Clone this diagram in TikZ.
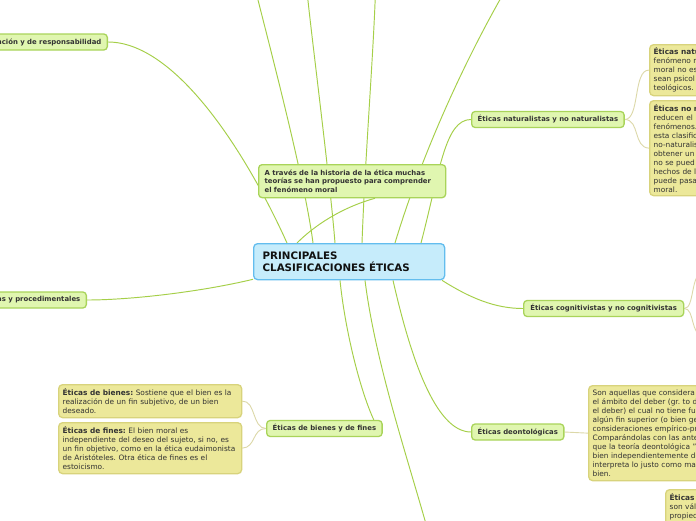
\documentclass[tikz,border=0pt]{standalone}
\usepackage{fontspec}
\setmainfont{DejaVu Sans}
\usetikzlibrary{calc}
\definecolor{gfill}{HTML}{E0F6B0}
\definecolor{gborder}{HTML}{A9D45A}
\definecolor{glin}{HTML}{A5CF48}
\definecolor{cfill}{HTML}{C6ECFB}
\definecolor{cborder}{HTML}{63BDEE}
\definecolor{tfill}{HTML}{ECE89A}
\definecolor{tborder}{HTML}{D8D37C}
\definecolor{tlin}{HTML}{DCD8A8}
\definecolor{txt}{HTML}{333333}
\definecolor{ctxt}{HTML}{111111}
\newcommand\gfnt{\frenchspacing\bfseries\fontsize{6.9}{8.5}\selectfont}
\newcommand\tfnt{\frenchspacing\fontsize{7.4}{9}\selectfont}
\newcommand\cfnt{\bfseries\fontsize{10.3}{12.5}\selectfont}
\pgfdeclarelayer{bg}
\pgfsetlayers{bg,main}
\begin{document}
\begin{tikzpicture}[x=1pt,y=-1pt,
  gnode/.style={draw=gborder, fill=gfill, line width=1.3pt, rounded corners=3.5pt,
    font=\gfnt, text=txt, inner xsep=6pt, inner ysep=0pt, minimum height=16pt},
  cnode/.style={draw=cborder, fill=cfill, line width=1.3pt, rounded corners=4pt,
    font=\cfnt, text=ctxt, inner xsep=9pt, inner ysep=0pt, align=left},
  tnode/.style={draw=tborder, fill=tfill, line width=1.3pt, rounded corners=4pt,
    font=\tfnt, text=txt, align=left, inner xsep=4pt, inner ysep=3pt, anchor=north west},
  gcon/.style={draw=glin, line width=0.95pt},
  tcon/.style={draw=tlin, line width=0.9pt}]
\useasboundingbox (0,0) rectangle (696,520);

% central node
\node[cnode, anchor=north west, text width=173pt, minimum height=36pt] (c) at (253,243)
  {PRINCIPALES\\CLASIFICACIONES ÉTICAS};

% green nodes
\node[gnode, anchor=north west, text width=175pt, align=left, minimum height=33pt] (hist) at (258,164)
  {A través de la historia de la ética muchas\\teorías se han propuesto para comprender\\el fenómeno moral};
\node[gnode, anchor=east] (resp) at (108,42) {nción y de responsabilidad};
\node[gnode, anchor=east] (proc) at (87,300) {as y procedimentales};
\node[gnode, anchor=west, minimum width=152pt] (nat) at (471,119.5) {Éticas naturalistas y no naturalistas};
\node[gnode, anchor=west, minimum width=160pt] (cog) at (523,308.5) {Éticas cognitivistas y no cognitivistas};
\node[gnode, anchor=west, minimum width=91pt] (deon) at (471,432) {Éticas deontológicas};
\node[gnode, anchor=west, minimum width=115pt] (bf) at (266,428.5) {Éticas de bienes y de fines};

% tan boxes
\node[tnode, text width=175pt, minimum height=33pt] (b1) at (58,384)
  {\textbf{Éticas de bienes:} Sostiene que el bien es la\\realización de un fin subjetivo, de un bien\\deseado.};
\node[tnode, text width=175pt, minimum height=51pt] (b2) at (58,422)
  {\textbf{Éticas de fines:} El bien moral es\\independiente del deseo del sujeto, si no, es\\un fin objetivo, como en la ética eudaimonista\\de Aristóteles. Otra ética de fines es el\\estoicismo.};
\node[tnode, text width=120pt, minimum height=51pt] (n1) at (649,44)
  {\textbf{Éticas natu}\\fenómeno m\\moral no es\\sean psicol\\teológicos.};
\node[tnode, text width=120pt, minimum height=95pt] (n2) at (649,100)
  {\textbf{Éticas no n}\\reducen el\\fenómenos.\\esta clasific\\no-naturalis\\obtener un\\no se pued\\hechos de l\\puede pasa\\moral.};
\node[tnode, text width=160pt, minimum height=95pt] (d1) at (588,385)
  {Son aquellas que considera\\el ámbito del deber (gr. to d\\el deber) el cual no tiene fu\\algún fin superior (o bien ge\\consideraciones empírico-pr\\Comparándolas con las ante\\que la teoría deontológica "\\bien independientemente de\\interpreta lo justo como ma\\bien.};
\node[tnode, text width=120pt, minimum height=50pt] (br) at (665,489)
  {\textbf{Éticas}\\son vál\\propied\\\mbox{}\\\mbox{}};

% free ends
\coordinate (t1) at (257,-4);
\coordinate (t2) at (307.5,-4);
\coordinate (t3) at (375.3,-4);
\coordinate (t4) at (502,-4);
\coordinate (bot) at (426,524);
\coordinate (cu) at (704,272);
\coordinate (cd) at (704,336);

\begin{pgfonlayer}{bg}
\fill[white] (0,0) rectangle (696,520);
\draw[gcon] ([xshift=34pt]c.north west) .. controls (245,150) and (175,42) .. (resp.east);
\draw[gcon] ([xshift=60pt]c.north west) .. controls (305,180) and (268,40) .. (t1);
\draw[gcon] ([xshift=82pt]c.north west) .. controls (330,180) and (312,40) .. (t2);
\draw[gcon] ([xshift=109pt]c.north west) .. controls (365,160) and (373,60) .. (t3);
\draw[gcon] ([xshift=142pt]c.north west) .. controls (420,160) and (460,70) .. (t4);
\draw[gcon] ([xshift=168pt]c.north west) .. controls (440,170) and (445,119.5) .. (nat.west);
\draw[gcon] ([xshift=44pt]c.north west) .. controls (320,220) and (350,205) .. ([xshift=117pt]hist.south west);
\draw[gcon] ([yshift=1pt]c.south west) .. controls (200,292) and (130,300) .. (proc.east);
\draw[gcon] ([xshift=87pt]c.south west) .. controls (345,330) and (360,390) .. ([xshift=-9pt]bf.north east);
\draw[gcon] ([xshift=112pt]c.south west) .. controls (375,360) and (405,450) .. (bot);
\draw[gcon] ([xshift=140pt]c.south west) .. controls (410,355) and (435,432) .. (deon.west);
\draw[gcon] ([xshift=189pt]c.south west) .. controls (470,298) and (495,308.5) .. (cog.west);
\draw[tcon] (nat.east) .. controls (640,119.5) and (633,69.5) .. (n1.west);
\draw[tcon] (nat.east) .. controls (640,119.5) and (633,147.5) .. (n2.west);
\draw[tcon] (bf.west) .. controls (252,428.5) and (256,400.5) .. (b1.east);
\draw[tcon] (bf.west) .. controls (252,428.5) and (256,447.5) .. (b2.east);
\draw[tcon] (deon.east) -- (d1.west);
\draw[tcon] (cog.east) .. controls (695,308.5) and (690,272) .. (cu);
\draw[tcon] (cog.east) .. controls (695,308.5) and (690,336) .. (cd);
\end{pgfonlayer}
\end{tikzpicture}
\end{document}
